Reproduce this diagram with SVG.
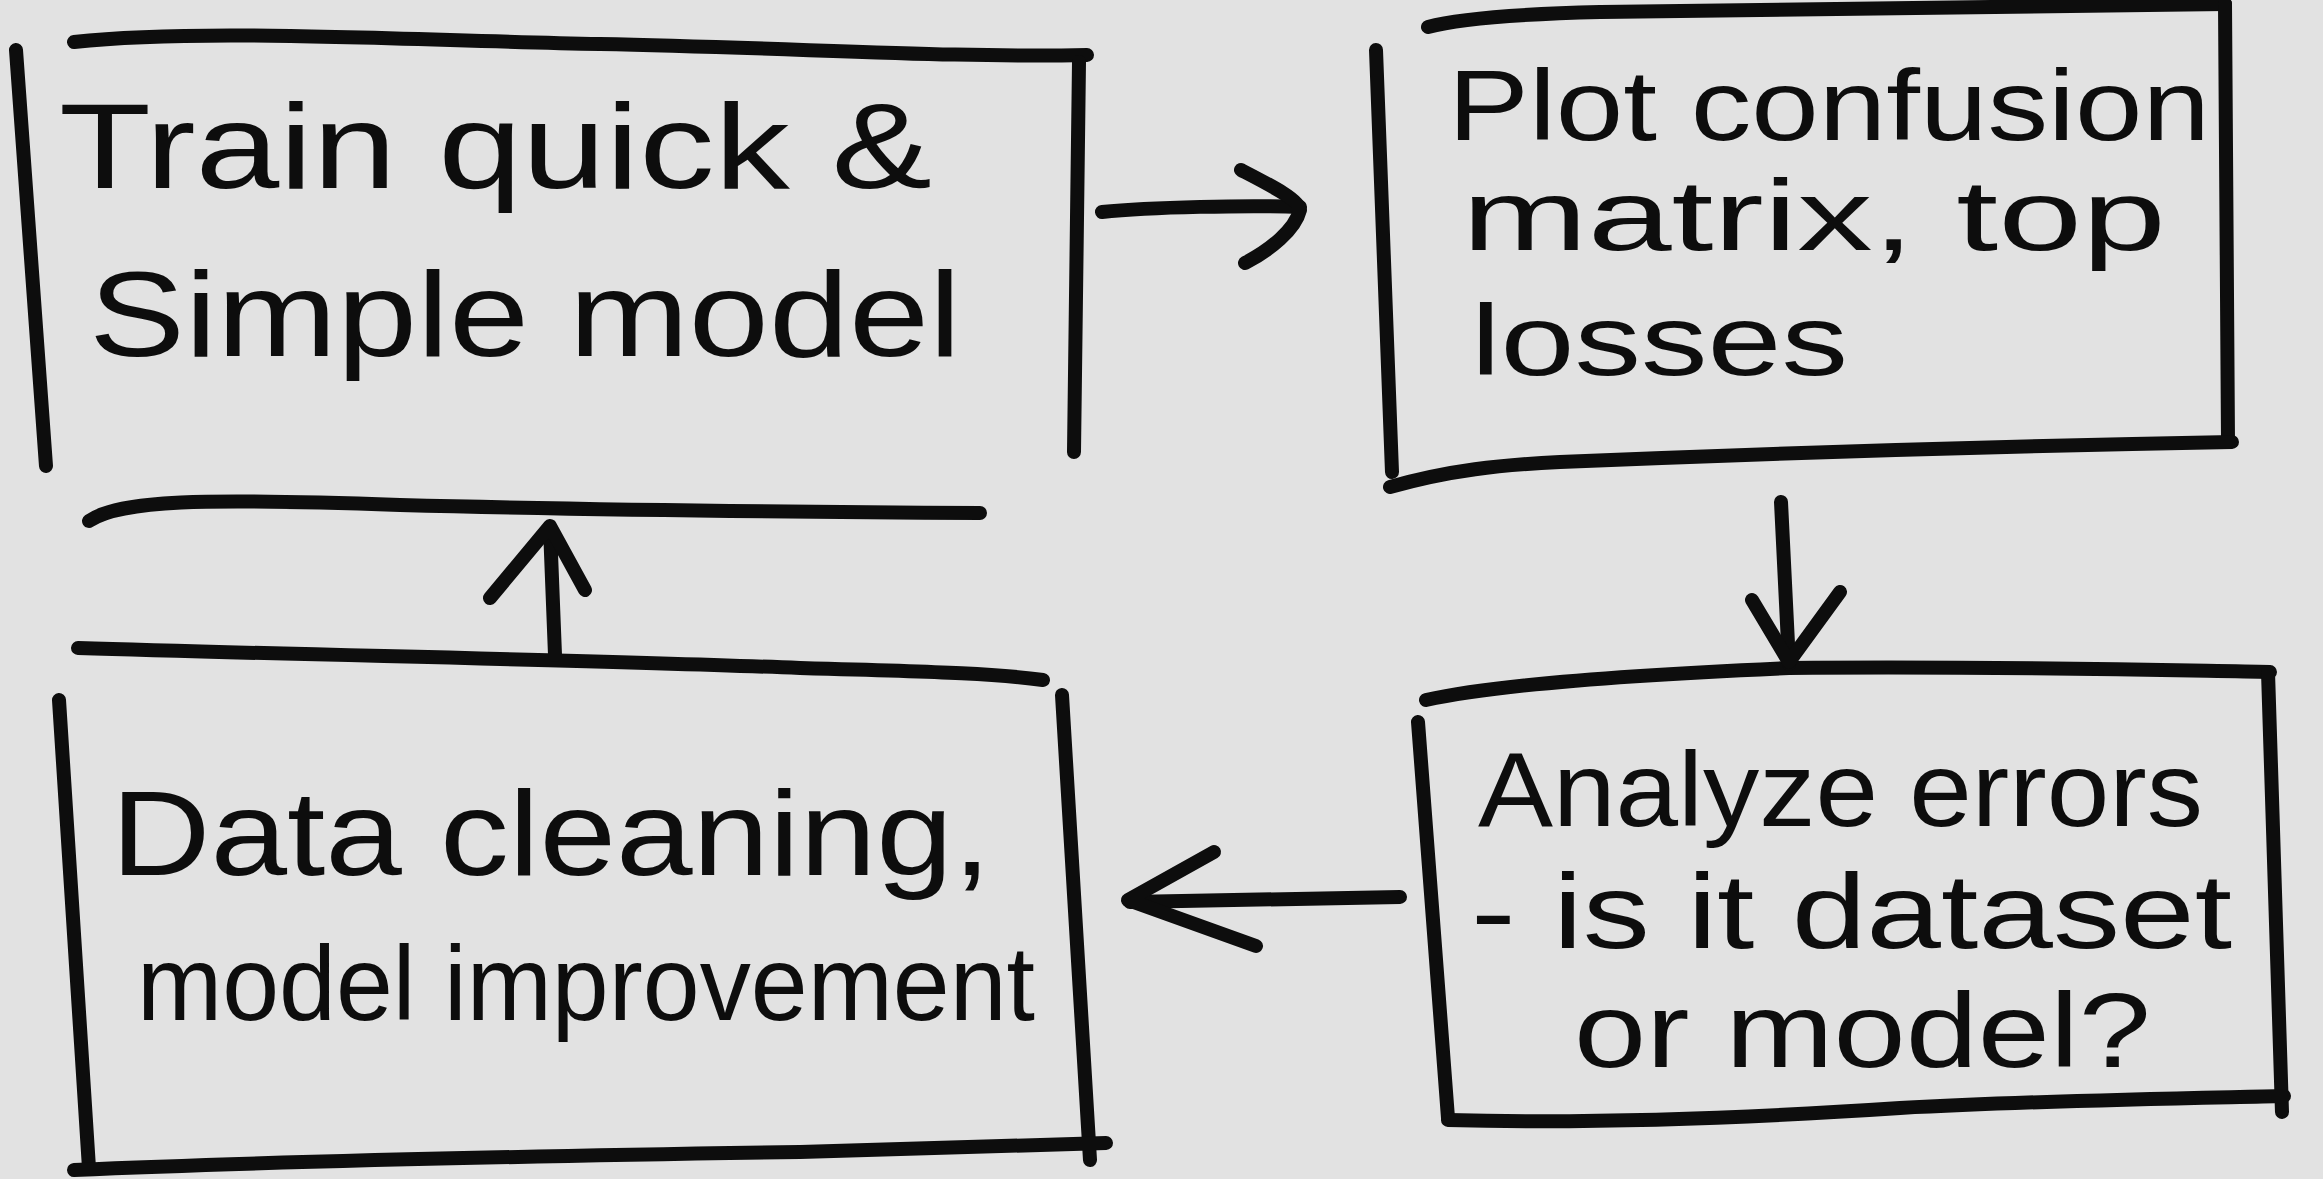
<svg xmlns="http://www.w3.org/2000/svg" width="2323" height="1179" viewBox="0 0 2323 1179">
<style>
.ln{fill:none;stroke:#0d0d0d;stroke-width:14;stroke-linecap:round;stroke-linejoin:round}
.t{font-family:"Liberation Sans","DejaVu Sans",sans-serif;font-size:120px;fill:#0d0d0d}
.s{font-size:100px}
.m{font-size:105px}
</style>
<rect width="2323" height="1179" fill="#e2e2e2"/>
<g id="node-train">
<path class="ln" d="M74,42 C200,28 400,40 600,44 C800,48 950,58 1087,55"/>
<path class="ln" d="M16,50 L46,466"/>
<path class="ln" d="M1079,62 L1074,452"/>
<path class="ln" d="M89,521 C120,500 200,498 400,505 C600,510 800,512 980,513"/>
<text class="t" x="59" y="188" textLength="873" lengthAdjust="spacingAndGlyphs">Train quick &amp;</text>
<text class="t" x="89" y="356" textLength="872" lengthAdjust="spacingAndGlyphs">Simple model</text>
</g>
<g id="node-plot">
<path class="ln" d="M1428,27 C1460,18 1520,14 1600,12 C1800,8 2000,6 2225,4"/>
<path class="ln" d="M1376,50 L1392,472"/>
<path class="ln" d="M2225,4 L2228,440"/>
<path class="ln" d="M1390,487 C1450,470 1500,465 1560,462 C1800,452 2000,446 2232,442"/>
<text class="t s" x="1448" y="140" textLength="762" lengthAdjust="spacingAndGlyphs">Plot confusion</text>
<text class="t s" x="1462" y="250" textLength="704" lengthAdjust="spacingAndGlyphs">matrix, top</text>
<text class="t s" x="1471" y="375" textLength="377" lengthAdjust="spacingAndGlyphs">losses</text>
</g>
<g id="node-analyze">
<path class="ln" d="M1426,700 C1480,688 1600,676 1789,668 C2000,666 2150,670 2270,672"/>
<path class="ln" d="M1418,722 L1448,1118"/>
<path class="ln" d="M2268,672 L2282,1112"/>
<path class="ln" d="M1448,1120 C1600,1124 1750,1118 1900,1108 C2050,1100 2200,1098 2284,1096"/>
<text class="t m" x="1478" y="826" textLength="725" lengthAdjust="spacingAndGlyphs">Analyze errors</text>
<text class="t m" x="1471" y="948" textLength="761" lengthAdjust="spacingAndGlyphs">- is it dataset</text>
<text class="t m" x="1574" y="1067" textLength="577" lengthAdjust="spacingAndGlyphs">or model?</text>
</g>
<g id="node-clean">
<path class="ln" d="M78,648 C300,655 600,660 800,668 C950,672 1000,674 1043,680"/>
<path class="ln" d="M59,700 L89,1168"/>
<path class="ln" d="M1062,695 L1090,1160"/>
<path class="ln" d="M74,1170 C300,1160 600,1155 800,1152 C950,1148 1050,1145 1106,1143"/>
<text class="t" x="111" y="875" textLength="880" lengthAdjust="spacingAndGlyphs">Data cleaning,</text>
<text class="t m" x="137" y="1020" textLength="898" lengthAdjust="spacingAndGlyphs">model improvement</text>
</g>
<g id="connectors">
<path class="ln" d="M1102,212 C1150,207 1250,205 1300,207"/>
<path class="ln" d="M1241,170 C1270,185 1300,200 1300,210 C1295,230 1270,250 1245,263"/>
<path class="ln" d="M1781,502 L1789,664"/>
<path class="ln" d="M1752,600 L1789,662 L1840,592"/>
<path class="ln" d="M1400,897 L1130,902"/>
<path class="ln" d="M1214,852 L1128,900 L1256,946"/>
<path class="ln" d="M555,655 L550,528"/>
<path class="ln" d="M490,598 L550,526 L585,590"/>
</g>
</svg>
